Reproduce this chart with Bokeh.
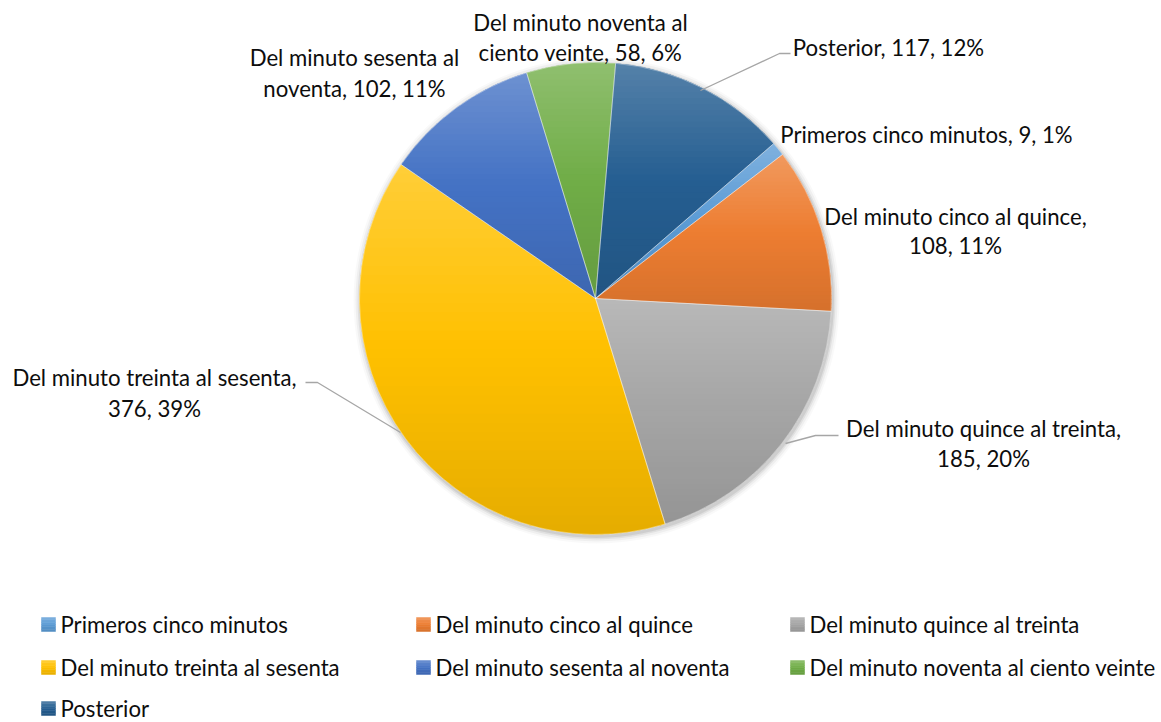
import math
from bokeh.plotting import figure
from bokeh.core.properties import value
from bokeh.embed import file_html
from bokeh.resources import INLINE

categories = ["Primeros cinco minutos", "Del minuto cinco al quince",
              "Del minuto quince al treinta", "Del minuto treinta al sesenta",
              "Del minuto sesenta al noventa", "Del minuto noventa al ciento veinte",
              "Posterior"]
counts = [9, 108, 185, 376, 102, 58, 117]
percent_labels = ["1%", "11%", "20%", "39%", "11%", "6%", "12%"]
colors = ["#5B9BD5", "#ED7D31", "#A5A5A5", "#FFC000", "#4472C4", "#70AD47", "#255E91"]

W, H = 1161, 722
FONT = "Lato"


def d(xs, ys):
    return xs, H - ys


def hex2rgb(h):
    h = h.lstrip("#")
    return [int(h[i:i + 2], 16) for i in (0, 2, 4)]


def rgb2hex(c):
    return "#%02x%02x%02x" % tuple(max(0, min(255, int(round(v)))) for v in c)


def shade(h, t):
    # t in [0,1]: 0 = top (lighter), 1 = bottom (darker)
    c = hex2rgb(h)
    top = [v + (255 - v) * 0.22 for v in c]
    bot = [v * 0.90 for v in c]
    if t < 0.5:
        u = t / 0.5
        return rgb2hex([a + (b - a) * u for a, b in zip(top, c)])
    u = (t - 0.5) / 0.5
    return rgb2hex([a + (b - a) * u for a, b in zip(c, bot)])


def clip(poly, ylo, yhi):
    def clip_half(pts, keep, inter):
        out = []
        n = len(pts)
        for i in range(n):
            a, b = pts[i], pts[(i + 1) % n]
            ka, kb = keep(a), keep(b)
            if ka:
                out.append(a)
            if ka != kb:
                out.append(inter(a, b))
        return out

    def ix(a, b, yv):
        t = (yv - a[1]) / (b[1] - a[1])
        return (a[0] + (b[0] - a[0]) * t, yv)

    pts = clip_half(poly, lambda q: q[1] >= ylo, lambda a, b: ix(a, b, ylo))
    if not pts:
        return []
    pts = clip_half(pts, lambda q: q[1] <= yhi, lambda a, b: ix(a, b, yhi))
    return pts


p = figure(width=W, height=H, output_backend="svg", toolbar_location=None,
           x_axis_type=None, y_axis_type=None, min_border=0,
           x_range=(0, W), y_range=(0, H))
p.outline_line_color = None
p.grid.visible = False

cx, cy = d(595, 298)
R = 236
first_angle = 49.0
total = sum(counts)

# soft shadow
for k, a in [(7, 0.025), (5, 0.04), (3, 0.06), (1.5, 0.08)]:
    p.circle(x=[cx + 1], y=[cy - 2], radius=R + k, fill_color="#000000",
             fill_alpha=a, line_color=None)

acc = 0.0
starts, ends = [], []
band_xs, band_ys, band_cols = [], [], []
for c, col in zip(counts, colors):
    a0 = first_angle + acc / total * 360
    acc += c
    a1 = first_angle + acc / total * 360
    starts.append(math.radians(90 - a0))
    ends.append(math.radians(90 - a1))
    n = max(4, int((a1 - a0) * 2))
    poly = [(cx, cy)]
    for i in range(n + 1):
        ang = math.radians(90 - (a0 + (a1 - a0) * i / n))
        poly.append((cx + R * math.cos(ang), cy + R * math.sin(ang)))
    ymax = max(q[1] for q in poly)
    ymin = min(q[1] for q in poly)
    nb = 40
    for b in range(nb):
        yhi = ymax - (ymax - ymin) * b / nb
        ylo = ymax - (ymax - ymin) * (b + 1) / nb
        part = clip(poly, ylo - 0.4, yhi + 0.4)
        if len(part) >= 3:
            band_xs.append([q[0] for q in part])
            band_ys.append([q[1] for q in part])
            band_cols.append(shade(col, (b + 0.5) / nb))

p.wedge(x=[cx] * len(counts), y=[cy] * len(counts), radius=R,
        start_angle=starts, end_angle=ends, direction="clock",
        fill_color=colors, line_color=None)
p.patches(xs=band_xs, ys=band_ys, fill_color=band_cols, line_color=None)
p.wedge(x=[cx] * len(counts), y=[cy] * len(counts), radius=R,
        start_angle=starts, end_angle=ends, direction="clock",
        fill_color=None, line_color="#FFFFFF", line_width=0.6, line_alpha=0.6)

# data labels
label_lines = [
    ([f"{categories[0]}, {counts[0]}, {percent_labels[0]}"], 926, [134]),
    ([f"{categories[1]},", f"{counts[1]}, {percent_labels[1]}"], 955, [216, 245]),
    ([f"{categories[2]},", f"{counts[2]}, {percent_labels[2]}"], 983, [428, 458]),
    ([f"{categories[3]},", f"{counts[3]}, {percent_labels[3]}"], 154, [377, 408]),
    (["Del minuto sesenta al", f"noventa, {counts[4]}, {percent_labels[4]}"], 354, [57, 88]),
    (["Del minuto noventa al", f"ciento veinte, {counts[5]}, {percent_labels[5]}"], 580, [22, 52]),
    ([f"{categories[6]}, {counts[6]}, {percent_labels[6]}"], 888, [47]),
]
tx, ty, tt = [], [], []
for lines, xs, ysl in label_lines:
    for line, ys in zip(lines, ysl):
        x, y = d(xs, ys)
        tx.append(x); ty.append(y); tt.append(line)
p.text(x=tx, y=ty, text=tt, text_font=value(FONT), text_font_size="22.2px",
       text_color="#0D0D0D", text_align="center", text_baseline="middle")

# leader lines
leaders = [
    [(700, 90), (779, 53), (790, 53)],
    [(785, 443), (815, 435), (838, 435)],
    [(400, 432), (317, 382), (305, 382)],
]
for pts in leaders:
    xs = [d(a, b)[0] for a, b in pts]
    ys = [d(a, b)[1] for a, b in pts]
    p.line(xs, ys, line_color="#A6A6A6", line_width=1.3)

# legend
col_x = [41, 416, 790]
row_y = [624, 667, 708]
lx, ly, lt = [], [], []
sq_xs, sq_ys, sq_cols = [], [], []
for i, cat in enumerate(categories):
    r, c = divmod(i, 3)
    x0 = col_x[c]
    y0 = row_y[r] - 7
    nb = 6
    for b in range(nb):
        ya = y0 + 14 * b / nb
        yb = y0 + 14 * (b + 1) / nb
        sq_xs.append([d(x0, 0)[0], d(x0 + 14, 0)[0], d(x0 + 14, 0)[0], d(x0, 0)[0]])
        sq_ys.append([d(0, ya)[1], d(0, ya)[1], d(0, yb)[1], d(0, yb)[1]])
        sq_cols.append(shade(colors[i], (b + 0.5) / nb))
    x2, y2 = d(x0 + 19, row_y[r])
    lx.append(x2); ly.append(y2); lt.append(cat)
p.patches(xs=sq_xs, ys=sq_ys, fill_color=sq_cols, line_color=sq_cols, line_width=0.5)
p.text(x=lx, y=ly, text=lt, text_font=value(FONT), text_font_size="22.2px",
       text_color="#0D0D0D", text_align="left", text_baseline="middle")

open("out.html", "w").write(file_html(p, INLINE))
